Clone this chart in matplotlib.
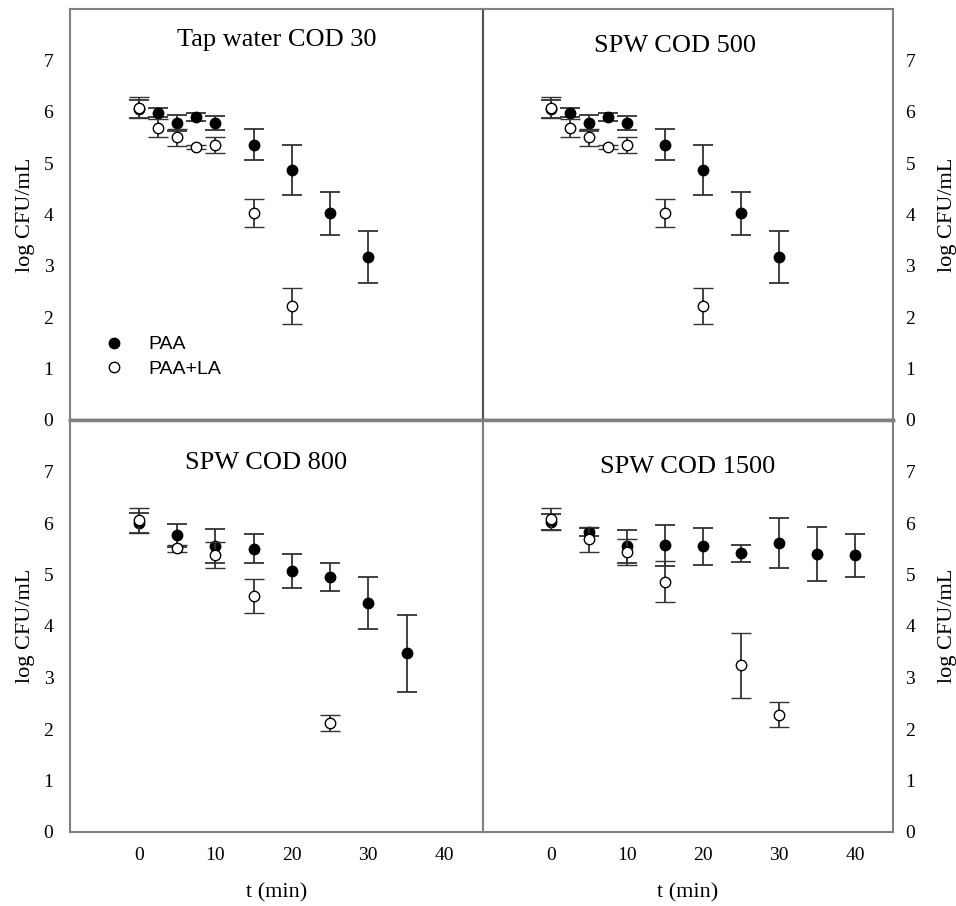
import numpy as np
import matplotlib
matplotlib.use("Agg")
import matplotlib.pyplot as plt

plt.rcParams['font.family'] = 'Liberation Serif'

# Tap water COD 30
t_tap_paa = [0, 2.5, 5, 7.5, 10, 15, 20, 25, 30]
y_tap_paa = [6.05, 5.98, 5.78, 5.90, 5.78, 5.36, 4.87, 4.02, 3.17]
e_tap_paa = [0.17, 0.09, 0.16, 0.08, 0.14, 0.30, 0.49, 0.42, 0.50]
t_tap_la = [0, 2.5, 5, 7.5, 10, 15, 20]
y_tap_la = [6.08, 5.68, 5.50, 5.31, 5.35, 4.03, 2.21]
e_tap_la = [0.20, 0.17, 0.16, 0.04, 0.15, 0.27, 0.35]

# SPW COD 500
t_500_paa = [0, 2.5, 5, 7.5, 10, 15, 20, 25, 30]
y_500_paa = [6.05, 5.98, 5.78, 5.90, 5.78, 5.36, 4.87, 4.02, 3.17]
e_500_paa = [0.17, 0.09, 0.16, 0.08, 0.14, 0.30, 0.49, 0.42, 0.50]
t_500_la = [0, 2.5, 5, 7.5, 10, 15, 20]
y_500_la = [6.08, 5.68, 5.50, 5.31, 5.35, 4.03, 2.21]
e_500_la = [0.20, 0.17, 0.16, 0.04, 0.15, 0.27, 0.35]

# SPW COD 800
t_800_paa = [0, 5, 10, 15, 20, 25, 30, 35]
y_800_paa = [6.00, 5.76, 5.55, 5.50, 5.07, 4.95, 4.45, 3.47]
e_800_paa = [0.20, 0.23, 0.33, 0.28, 0.33, 0.27, 0.50, 0.75]
t_800_la = [0, 5, 10, 15, 25]
y_800_la = [6.05, 5.51, 5.38, 4.58, 2.12]
e_800_la = [0.25, 0.07, 0.25, 0.33, 0.16]

# SPW COD 1500
t_1500_paa = [0, 5, 10, 15, 20, 25, 30, 35, 40]
y_1500_paa = [6.02, 5.82, 5.55, 5.57, 5.55, 5.41, 5.61, 5.40, 5.37]
e_1500_paa = [0.15, 0.08, 0.32, 0.40, 0.36, 0.17, 0.49, 0.53, 0.41]
t_1500_la = [0, 5, 10, 15, 25, 30]
y_1500_la = [6.08, 5.68, 5.43, 4.86, 3.24, 2.28]
e_1500_la = [0.21, 0.25, 0.25, 0.40, 0.63, 0.24]

panels = [
    ("Tap water COD 30", t_tap_paa, y_tap_paa, e_tap_paa, t_tap_la, y_tap_la, e_tap_la),
    ("SPW COD 500", t_500_paa, y_500_paa, e_500_paa, t_500_la, y_500_la, e_500_la),
    ("SPW COD 800", t_800_paa, y_800_paa, e_800_paa, t_800_la, y_800_la, e_800_la),
    ("SPW COD 1500", t_1500_paa, y_1500_paa, e_1500_paa, t_1500_la, y_1500_la, e_1500_la),
]

W, H = 956, 906
fig = plt.figure(figsize=(W / 100, H / 100), dpi=100)

# axes rectangles in pixels: left, top, right, bottom
rects = [(70, 9, 483, 420), (483, 9, 893, 420), (70, 420, 483, 832), (483, 420, 893, 832)]
title_pos = [(0.5, 0.925), (0.468, 0.91), (0.475, 0.895), (0.5, 0.885)]
frame_col = '#808080'
err_col = '#333333'

for i, (name, tp, yp, ep, tl, yl, el) in enumerate(panels):
    l, t, r, b = rects[i]
    ax = fig.add_axes([l / W, 1 - b / H, (r - l) / W, (b - t) / H])
    ax.set_xlim(-9, 45)
    ax.set_ylim(0, 8)
    for s in ax.spines.values():
        s.set_color(frame_col)
        s.set_linewidth(1.5)
    # middle divider lines
    if i < 2:
        ax.spines['bottom'].set_linewidth(2.5)
        ax.spines['right' if i == 0 else 'left'].set_color('#505050')
    else:
        ax.spines['top'].set_linewidth(2.5)

    c1 = ax.errorbar(tp, yp, yerr=ep, fmt='o', color='black', ms=7.5,
                     ecolor=err_col, elinewidth=1.3, capsize=7.5, capthick=1.3, zorder=2)
    c2 = ax.errorbar(tl, yl, yerr=el, fmt='o', mfc='white', mec='black', mew=1.0, ms=7.5,
                     ecolor=err_col, elinewidth=1.3, capsize=7.5, capthick=1.3, zorder=3)

    ax.set_yticks(range(0, 8))
    ax.set_xticks([0, 10, 20, 30, 40])
    ax.tick_params(length=0, labelsize=14)
    right = i % 2 == 1
    if right:
        ax.yaxis.tick_right()
        ax.yaxis.set_label_position('right')
        ax.tick_params(axis='y', pad=9)
        ax.set_ylabel('log CFU/mL', fontsize=16, labelpad=16)
    else:
        ax.tick_params(axis='y', pad=12)
        ax.set_ylabel('log CFU/mL', fontsize=16, labelpad=6)
    if i < 2:
        ax.set_xticklabels([])
    else:
        ax.tick_params(axis='x', pad=11)
        ax.set_xlabel('t (min)', fontsize=16, labelpad=14)

    ax.text(title_pos[i][0], title_pos[i][1], name, transform=ax.transAxes,
            ha='center', va='center', fontsize=19)

    if i == 0:
        ax.legend([c1[0], c2[0]], ['PAA', 'PAA+LA'], loc='lower left',
                  bbox_to_anchor=(0.035, 0.06), frameon=False, handlelength=1.2,
                  handletextpad=1.2, labelspacing=0.35,
                  prop={'family': 'Liberation Sans', 'size': 14})

fig.savefig('out.png', dpi=100)
